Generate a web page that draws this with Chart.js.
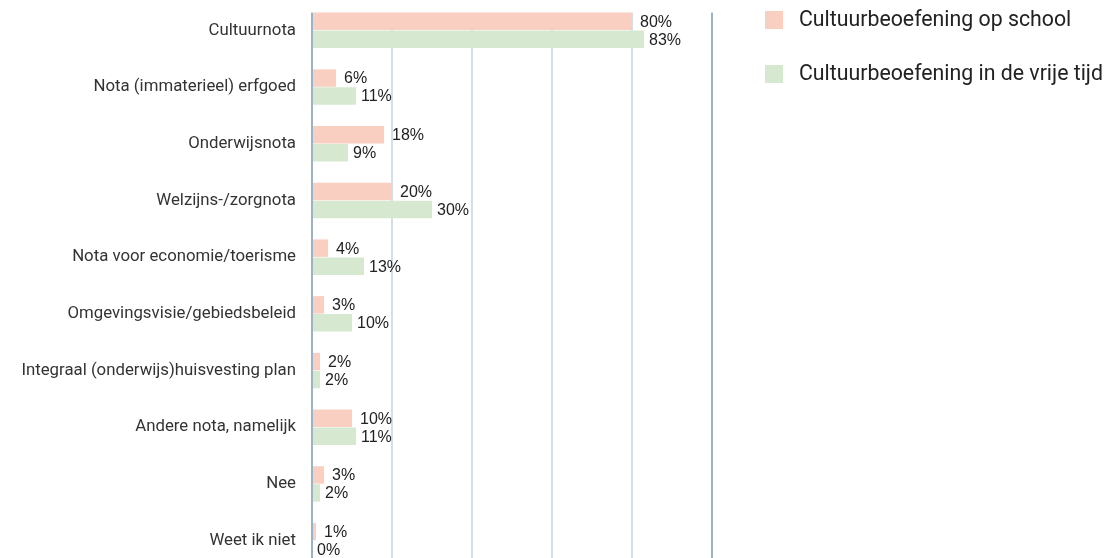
<!DOCTYPE html>
<html>
<head>
<meta charset="utf-8">
<script src="https://cdn.jsdelivr.net/npm/chart.js@4/dist/chart.umd.min.js"></script>
<style>
  html, body { margin: 0; padding: 0; background: #fff; overflow: hidden; }
  #wrap { width: 1108px; height: 558px; overflow: hidden; }
</style>
</head>
<body>
<div id="wrap"><canvas id="chart" width="1108" height="569"></canvas></div>
<script>
const categories = [
  'Cultuurnota',
  'Nota (immaterieel) erfgoed',
  'Onderwijsnota',
  'Welzijns-/zorgnota',
  'Nota voor economie/toerisme',
  'Omgevingsvisie/gebiedsbeleid',
  'Integraal (onderwijs)huisvesting plan',
  'Andere nota, namelijk',
  'Nee',
  'Weet ik niet'
];
const opSchool = [80, 6, 18, 20, 4, 3, 2, 10, 3, 1];
const vrijeTijd = [83, 11, 9, 30, 13, 10, 2, 11, 2, 0];
const xTicks = [0, 20, 40, 60, 80, 100];

const FONT = 'Roboto, "Open Sans", sans-serif';

// percentage labels next to the bars
const valueLabels = {
  id: 'valueLabels',
  afterDatasetsDraw(chart) {
    const { ctx } = chart;
    ctx.save();
    ctx.font = '16px "Liberation Sans", Arial, sans-serif';
    ctx.fillStyle = '#222';
    ctx.textBaseline = 'middle';
    ctx.textAlign = 'left';
    chart.data.datasets.forEach((ds, i) => {
      const off = i === 0 ? 8 : 5;
      chart.getDatasetMeta(i).data.forEach((bar, j) => {
        ctx.fillText(ds.data[j] + '%', bar.x + off, bar.y + 1);
      });
    });
    ctx.restore();
  }
};

// gridlines start at the top of the first bar
const trimGrid = {
  id: 'trimGrid',
  beforeDatasetsDraw(chart) {
    const { ctx, chartArea } = chart;
    const first = chart.getDatasetMeta(0).data[0];
    const top = first.y - first.height / 2;
    ctx.save();
    ctx.fillStyle = '#fff';
    ctx.fillRect(chartArea.left - 2, 0, chartArea.right - chartArea.left + 4, top);
    ctx.restore();
  }
};

const sideLegend = {
  id: 'sideLegend',
  afterDraw(chart) {
    const { ctx } = chart;
    ctx.save();
    ctx.font = '21.3px ' + FONT;
    ctx.textBaseline = 'middle';
    chart.data.datasets.forEach((ds, i) => {
      const y = 11 + i * 54;
      ctx.fillStyle = ds.backgroundColor;
      ctx.fillRect(765, y, 18, 18);
      ctx.fillStyle = '#222';
      ctx.fillText(ds.label, 799, y + 10);
    });
    ctx.restore();
  }
};

new Chart(document.getElementById('chart'), {
  type: 'bar',
  plugins: [trimGrid, valueLabels, sideLegend],
  data: {
    labels: categories,
    datasets: [
      {
        label: 'Cultuurbeoefening op school',
        data: opSchool,
        backgroundColor: '#f9cfc2',
        categoryPercentage: 0.635,
        barPercentage: 0.97
      },
      {
        label: 'Cultuurbeoefening in de vrije tijd',
        data: vrijeTijd,
        backgroundColor: '#d6e9d0',
        categoryPercentage: 0.635,
        barPercentage: 0.97
      }
    ]
  },
  options: {
    indexAxis: 'y',
    responsive: false,
    animation: false,
    layout: { padding: { top: 2, right: 396 } },
    plugins: {
      legend: { display: false },
      tooltip: { enabled: false }
    },
    scales: {
      x: {
        min: 0,
        max: 100,
        afterBuildTicks: s => { s.ticks = xTicks.map(v => ({ value: v })); },
        ticks: { display: false },
        border: { display: false },
        grid: {
          drawTicks: false,
          lineWidth: 2,
          color: c => (c.tick.value === 0 || c.tick.value === 100) ? '#9db3c3' : '#d3dee7'
        }
      },
      y: {
        afterFit: s => {
          s.width = 312;
          s.paddingTop = 0;
          s.paddingBottom = 0;
        },
        border: { display: false },
        grid: { display: false, drawTicks: false },
        ticks: {
          padding: 16,
          color: '#333',
          font: { family: FONT, size: 16.8 }
        }
      }
    }
  }
});
</script>
</body>
</html>
